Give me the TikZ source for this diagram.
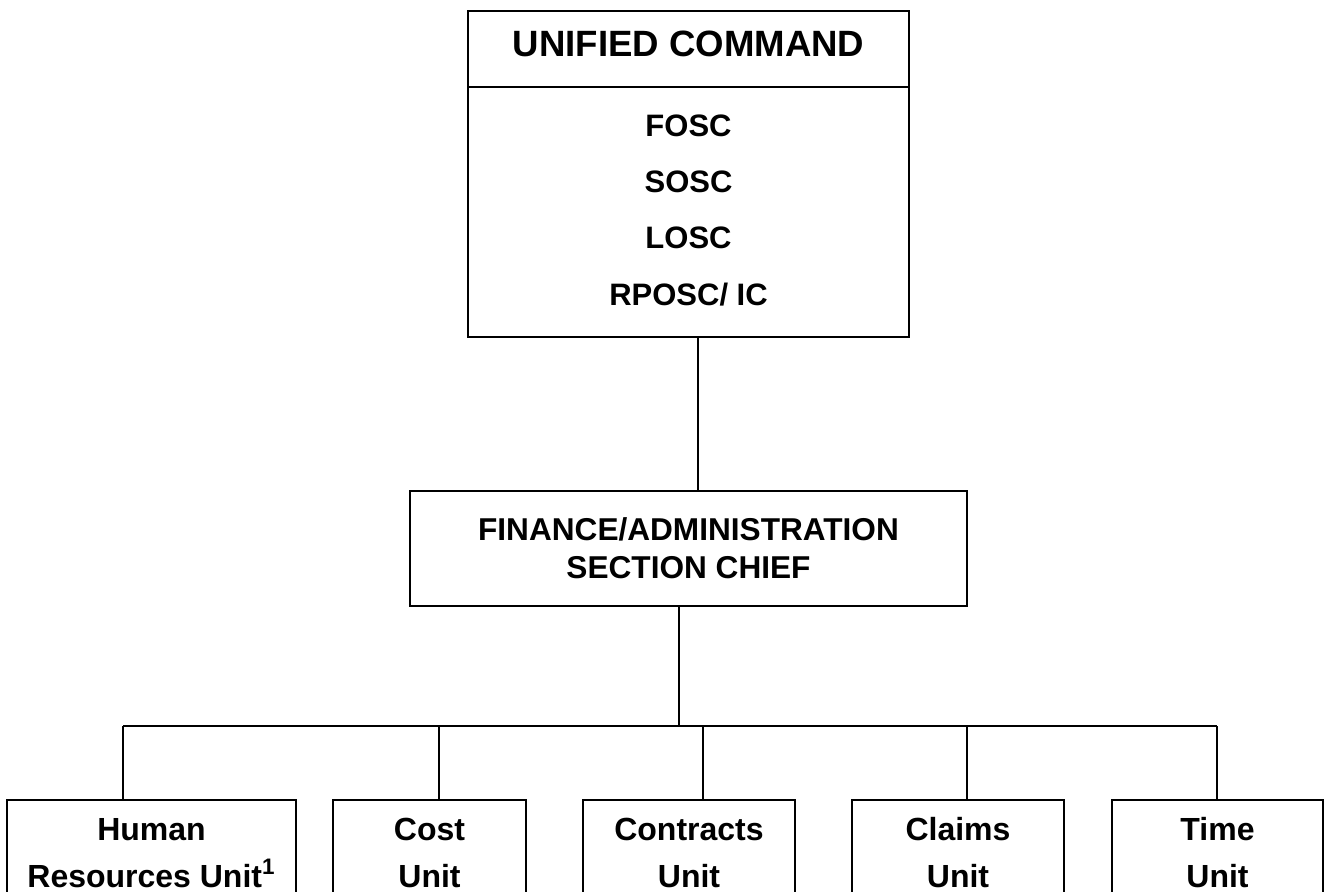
\documentclass[tikz,border=0pt]{standalone}
\usepackage{fontspec}
\setmainfont{Liberation Sans}
\begin{document}
\begin{tikzpicture}[x=0.5pt,y=-0.5pt,
  box/.style={draw, line width=1pt, rectangle, inner sep=0pt},
  conn/.style={line width=0.7pt},
  lbl/.style={inner sep=0pt, anchor=base},
  big/.style={font=\bfseries\fontsize{18.3}{22}\selectfont},
  mid/.style={font=\bfseries\fontsize{15.5}{19}\selectfont},
  fin/.style={font=\bfseries\fontsize{15.8}{19}\selectfont},
  unit/.style={font=\bfseries\fontsize{16}{20}\selectfont}]
\useasboundingbox (0,0) rectangle (1325,892);
\clip (0,0) rectangle (1325,892);
% Unified command
\node[box, minimum width=220.5pt, minimum height=163pt] (uc) at (688.5,174) {};
\coordinate (div) at (0,87);
\draw[line width=1pt] (uc.west |- div) -- (uc.east |- div);
\node[lbl, big] (t0) at (688.5,57) {UNIFIED COMMAND};
\node[lbl, mid] (t1) at (688.5,137) {FOSC};
\node[lbl, mid] (t2) at (688.5,193) {SOSC};
\node[lbl, mid] (t3) at (688.5,249) {LOSC};
\node[lbl, mid] (t4) at (688.5,306) {RPOSC/ IC};
% Finance
\node[box, minimum width=278.5pt, minimum height=57.5pt] (fa) at (688.5,548.5) {};
\node[lbl, fin] (f1) at (688.5,540) {FINANCE/ADMINISTRATION};
\node[lbl, fin] (f2) at (688.5,578) {SECTION CHIEF};
% Units
\node[box, anchor=north, minimum width=144.5pt, minimum height=80pt] (hr) at (151.5,799) {};
\node[box, anchor=north, minimum width=96.5pt, minimum height=80pt] (cost) at (429.5,799) {};
\node[box, anchor=north, minimum width=106pt, minimum height=80pt] (con) at (689,799) {};
\node[box, anchor=north, minimum width=106pt, minimum height=80pt] (cla) at (958,799) {};
\node[box, anchor=north, minimum width=105.5pt, minimum height=80pt] (tim) at (1217.5,799) {};
\node[lbl, unit] (h1) at (151.5,840) {Human};
\node[lbl, unit] (h2) at (151.5,887) {Resources Unit\textsuperscript{1}};
\node[lbl, unit] (c1) at (429.5,840) {Cost};
\node[lbl, unit] (c2) at (429.5,887) {Unit};
\node[lbl, unit] (k1) at (689,840) {Contracts};
\node[lbl, unit] (k2) at (689,887) {Unit};
\node[lbl, unit] (l1) at (958,840) {Claims};
\node[lbl, unit] (l2) at (958,887) {Unit};
\node[lbl, unit] (m1) at (1217.5,840) {Time};
\node[lbl, unit] (m2) at (1217.5,887) {Unit};
% Connectors
\coordinate (v0) at (698,0);
\coordinate (v1) at (679,0);
\coordinate (bus) at (0,726);
\coordinate (b1) at (123,726);
\coordinate (b2) at (439,726);
\coordinate (b3) at (703,726);
\coordinate (b4) at (967,726);
\coordinate (b5) at (1217,726);
\draw[conn] (v0 |- uc.south) -- (v0 |- fa.north);
\draw[conn] (v1 |- fa.south) -- (v1 |- bus);
\draw[conn] (b1) -- (b5);
\draw[conn] (b1) -- (b1 |- hr.north);
\draw[conn] (b2) -- (b2 |- cost.north);
\draw[conn] (b3) -- (b3 |- con.north);
\draw[conn] (b4) -- (b4 |- cla.north);
\draw[conn] (b5) -- (b5 |- tim.north);
\end{tikzpicture}
\end{document}
